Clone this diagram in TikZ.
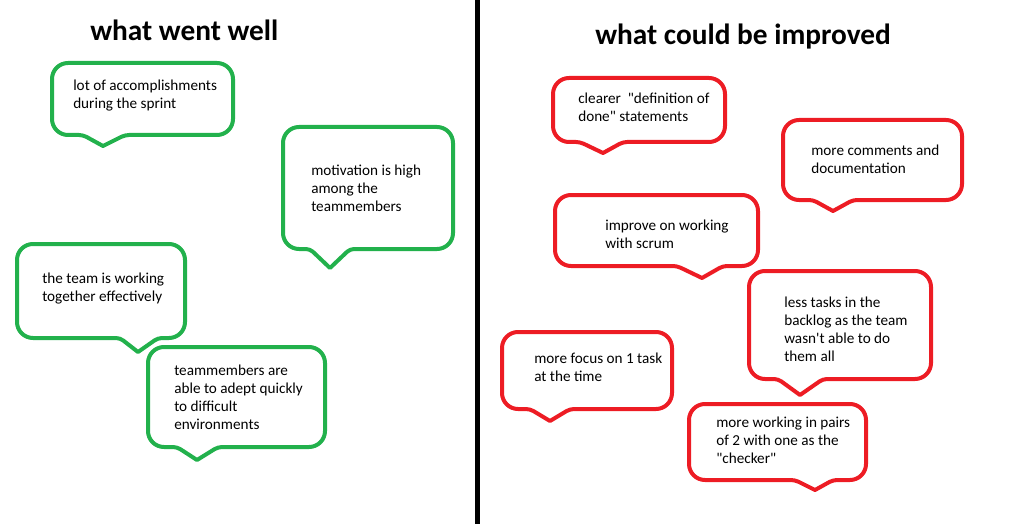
\documentclass[tikz,border=0pt]{standalone}
\usepackage{fontspec}
\setmainfont{Carlito}
\usepackage{tikz}
\definecolor{paintgreen}{HTML}{22B14C}
\definecolor{paintred}{HTML}{ED1C24}
\tikzstyle{goodbubble} = [draw=paintgreen, line width=3pt, line join=round]
\tikzstyle{badbubble} = [draw=paintred, line width=3pt, line join=round]
\tikzstyle{note} = [anchor=north west, inner sep=0pt, align=left, font=\fontsize{11.4pt}{13.5pt}\selectfont]
\tikzstyle{heading} = [anchor=base west, inner sep=0pt, font=\fontsize{22pt}{26pt}\selectfont\bfseries]

\begin{document}
\begin{tikzpicture}[x=0.75pt, y=-0.75pt]

\useasboundingbox (0,0) rectangle (1009,524);

% divider
\fill [black] (475,0) rectangle (480,524);

% headings
\node (well) [heading] at (90,41) {what went well};
\node (improve) [heading] at (595,45) {what could be improved};

% green bubbles
\draw [goodbubble] (140,63) [rounded corners=12pt] -- (233,63) -- (233,135) [rounded corners=3pt] -- (125,135) [sharp corners] -- (103,146) [rounded corners=3pt] -- (83,135) [rounded corners=12pt] -- (52,135) -- (52,63) -- cycle;
\draw [goodbubble] (370,127) [rounded corners=12pt] -- (453,127) -- (453,249) [rounded corners=3pt] -- (350,249) [sharp corners] -- (330,268) [rounded corners=3pt] -- (310,249) [rounded corners=12pt] -- (283,249) -- (283,127) -- cycle;
\draw [goodbubble] (100,244) [rounded corners=12pt] -- (185,244) -- (185,338) [rounded corners=3pt] -- (158,338) [sharp corners] -- (138,352) [rounded corners=3pt] -- (120,338) [rounded corners=12pt] -- (17,338) -- (17,244) -- cycle;
\draw [goodbubble] (240,347) [rounded corners=12pt] -- (325,347) -- (325,447) [rounded corners=3pt] -- (218,447) [sharp corners] -- (197,460) [rounded corners=3pt] -- (177,447) [rounded corners=12pt] -- (148,447) -- (148,347) -- cycle;

% texts sit with the first baseline 12.6px under the given point
\node (sprint) [note] at (73,77.4) {\strut lot of accomplishments\\during the sprint};
\node (motivation) [note] at (311,162.4) {\strut motivation is high\\among the\\teammembers};
\node (together) [note] at (42,270.4) {\strut the team is working\\together effectively};
\node (adept) [note] at (174,362.4) {\strut teammembers are\\able to adept quickly\\to difficult\\environments};

% red bubbles
\draw [badbubble] (640,78) [rounded corners=12pt] -- (725,78) -- (725,142) [rounded corners=3pt] -- (623,142) [sharp corners] -- (603,153) [rounded corners=3pt] -- (580,142) [rounded corners=12pt] -- (553,142) -- (553,78) -- cycle;
\draw [badbubble] (870,120) [rounded corners=12pt] -- (962,120) -- (962,200) [rounded corners=3pt] -- (853,200) [sharp corners] -- (833,211) [rounded corners=3pt] -- (813,200) [rounded corners=12pt] -- (783,200) -- (783,120) -- cycle;
\draw [badbubble] (650,195) [rounded corners=12pt] -- (758,195) -- (758,266) [rounded corners=3pt] -- (723,266) [sharp corners] -- (702,278) [rounded corners=3pt] -- (677,266) [rounded corners=12pt] -- (555,266) -- (555,195) -- cycle;
\draw [badbubble] (840,271) [rounded corners=12pt] -- (931,271) -- (931,379) [rounded corners=3pt] -- (823,379) [sharp corners] -- (800,395) [rounded corners=3pt] -- (778,379) [rounded corners=12pt] -- (749,379) -- (749,271) -- cycle;
\draw [badbubble] (590,332) [rounded corners=12pt] -- (672,332) -- (672,409) [rounded corners=3pt] -- (570,409) [sharp corners] -- (550,421) [rounded corners=3pt] -- (530,409) [rounded corners=12pt] -- (502,409) -- (502,332) -- cycle;
\draw [badbubble] (780,404) [rounded corners=12pt] -- (866,404) -- (866,480) [rounded corners=3pt] -- (833,480) [sharp corners] -- (815,490) [rounded corners=3pt] -- (795,480) [rounded corners=12pt] -- (689,480) -- (689,404) -- cycle;

\node (done) [note] at (578,90.4) {\strut clearer~ \textquotedbl definition of\\done\textquotedbl{} statements};
\node (comments) [note] at (811,142.4) {\strut more comments and\\documentation};
\node (scrum) [note] at (605,217.4) {\strut improve on working\\with scrum};
\node (backlog) [note] at (784,294.4) {\strut less tasks in the\\backlog as the team\\wasn\textquotesingle t able to do\\them all};
\node (focus) [note] at (534,350.4) {\strut more focus on 1 task\\at the time};
\node (pairs) [note] at (716,414.4) {\strut more working in pairs\\of 2 with one as the\\\textquotedbl checker\textquotedbl};

\end{tikzpicture}
\end{document}
